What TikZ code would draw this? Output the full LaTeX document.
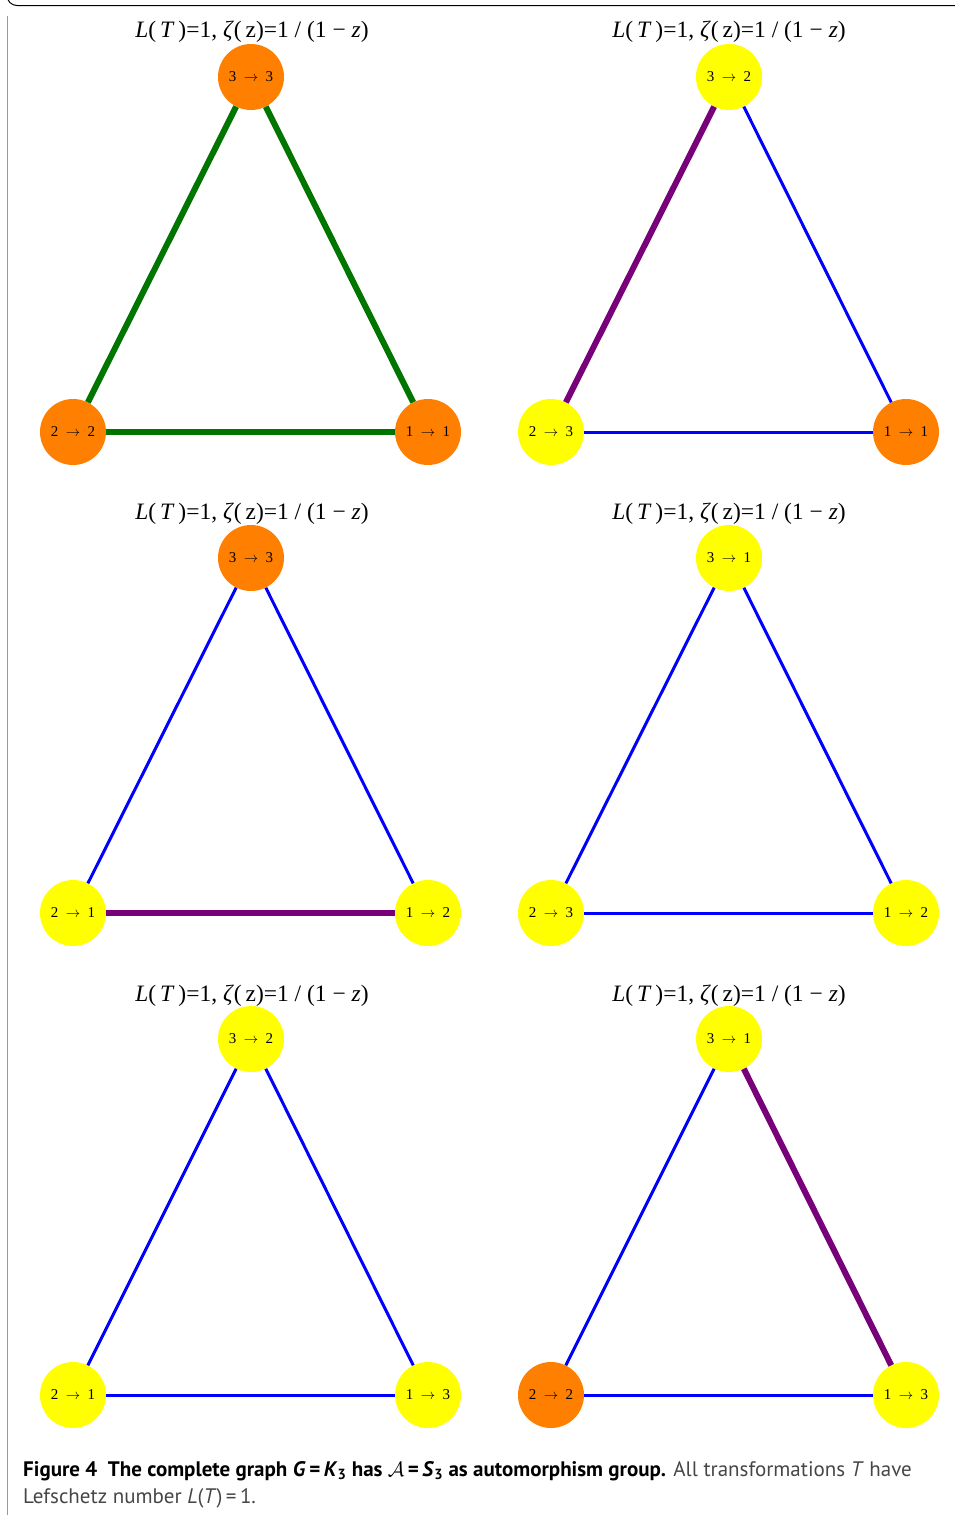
\documentclass[tikz,border=0pt]{standalone}
\usepackage{fontspec}
\setmainfont{Liberation Serif}
\newfontfamily\capfont{PT Sans}
\usetikzlibrary{calc}
\definecolor{vorange}{RGB}{255,128,0}
\definecolor{vyellow}{RGB}{255,255,0}
\definecolor{egreen}{RGB}{0,118,0}
\definecolor{epurple}{RGB}{120,0,120}
\definecolor{eblue}{RGB}{0,0,255}
\definecolor{captext}{RGB}{70,70,70}
\tikzset{
  vtx/.style={circle, minimum size=66pt, inner sep=0pt, font=\fontsize{15}{15}\selectfont},
  vor/.style={vtx, fill=vorange},
  vye/.style={vtx, fill=vyellow},
  ethick/.style={line width=6pt},
  ethin/.style={line width=3pt},
  eg/.style={ethick, draw=egreen},
  ep/.style={ethick, draw=epurple},
  eb/.style={ethin, draw=eblue},
  ttl/.style={font=\fontsize{23.5}{23.5}\selectfont, inner sep=0pt}
}
\newcommand\mto[2]{#1\ \ $\to$\ \ #2}
\newcommand\ttltext{\textit{L}(\,\textit{T}\,)=1, \textit{ζ}(\,z)=1\ /\ (1\ −\ \textit{z})}
\begin{document}
\begin{tikzpicture}[x=1pt,y=-1pt]
\useasboundingbox (0,0) rectangle (955,1515);
% frame
\draw[black, line width=1pt] (955,5.5) -- (17,5.5) arc[start angle=90, end angle=180, radius=10];
\draw[gray!80, line width=1pt] (7,15.5) -- (7,1515);
% ---------- panel 1
\node[ttl] (h1) at (252,32) {\ttltext};
\node[vor] (t1) at (251,77) {\mto33};
\node[vor] (l1) at (73,432) {\mto22};
\node[vor] (r1) at (428,432) {\mto11};
\draw[eg] (t1) -- (l1);
\draw[eg] (t1) -- (r1);
\draw[eg] (l1) -- (r1);
% ---------- panel 2
\node[ttl] (h2) at (729,32) {\ttltext};
\node[vye] (t2) at (729,77) {\mto32};
\node[vye] (l2) at (551,432) {\mto23};
\node[vor] (r2) at (906,432) {\mto11};
\draw[ep] (t2) -- (l2);
\draw[eb] (t2) -- (r2);
\draw[eb] (l2) -- (r2);
% ---------- panel 3
\node[ttl] (h3) at (252,514) {\ttltext};
\node[vor] (t3) at (251,558) {\mto33};
\node[vye] (l3) at (73,913) {\mto21};
\node[vye] (r3) at (428,913) {\mto12};
\draw[eb] (t3) -- (l3);
\draw[eb] (t3) -- (r3);
\draw[ep] (l3) -- (r3);
% ---------- panel 4
\node[ttl] (h4) at (729,514) {\ttltext};
\node[vye] (t4) at (729,558) {\mto31};
\node[vye] (l4) at (551,913) {\mto23};
\node[vye] (r4) at (906,913) {\mto12};
\draw[eb] (t4) -- (l4);
\draw[eb] (t4) -- (r4);
\draw[eb] (l4) -- (r4);
% ---------- panel 5
\node[ttl] (h5) at (252,996) {\ttltext};
\node[vye] (t5) at (251,1039) {\mto32};
\node[vye] (l5) at (73,1395) {\mto21};
\node[vye] (r5) at (428,1395) {\mto13};
\draw[eb] (t5) -- (l5);
\draw[eb] (t5) -- (r5);
\draw[eb] (l5) -- (r5);
% ---------- panel 6
\node[ttl] (h6) at (729,996) {\ttltext};
\node[vye] (t6) at (729,1039) {\mto31};
\node[vor] (l6) at (551,1395) {\mto22};
\node[vye] (r6) at (906,1395) {\mto13};
\draw[eb] (t6) -- (l6);
\draw[ep] (t6) -- (r6);
\draw[eb] (l6) -- (r6);
% ---------- caption
\node[anchor=base west, inner sep=0pt, font=\capfont\fontsize{21}{21}\selectfont] (cap1) at (23,1476)
 {\textbf{Figure 4\ \ The complete graph \textit{G}\,=\,\textit{K}\textsubscript{3} has $\mathcal{A}$\,=\,\textit{S}\textsubscript{3} as automorphism group.} \textcolor{captext}{All transformations \textit{T} have}};
\node[anchor=base west, inner sep=0pt, font=\capfont\fontsize{21}{21}\selectfont, text=captext] (cap2) at (23,1503)
 {Lefschetz number \textit{L}(\textit{T})\,=\,1.};
\end{tikzpicture}
\end{document}
